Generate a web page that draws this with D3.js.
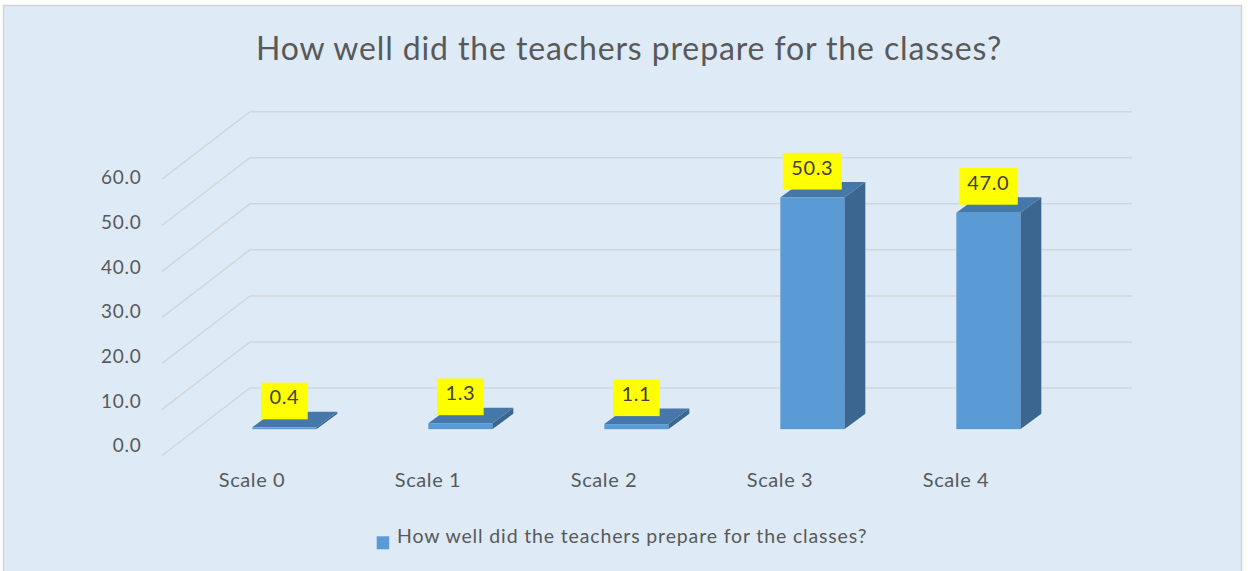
<!DOCTYPE html>
<html>
<head>
<meta charset="utf-8">
<script src="https://cdn.jsdelivr.net/npm/d3@7"></script>
<style>
  html, body { margin: 0; padding: 0; background: #ffffff; }
  svg { display: block; }
  text { font-family: Lato, "Open Sans", sans-serif; fill: #595959; }
</style>
</head>
<body>
<svg id="chart" width="1248" height="571"></svg>
<script>
// ---- data ----
const chartTitle = "How well did the teachers prepare for the classes?";
const seriesName = "How well did the teachers prepare for the classes?";
const categories = ["Scale 0", "Scale 1", "Scale 2", "Scale 3", "Scale 4"];
const values = [0.4, 1.3, 1.1, 50.3, 47.0];
const yTicks = [0, 10, 20, 30, 40, 50, 60];
const yTickLabels = ["0.0", "10.0", "20.0", "30.0", "40.0", "50.0", "60.0"];

// ---- geometry ----
const svg = d3.select("#chart");

const frontLeft = 162, frontRight = 1042;   // front edge of floor
const depthDX = 88, depthDY = 67.5;          // floor depth projection
const backZeroY = 388;                       // back wall, value 0
const barFrontZ = 0.39;                      // bar front position in depth
const barDepthDX = 21, barDepthDY = 15.5;
const barWidth = 64;

const x = d3.scaleBand().domain(categories).range([frontLeft, frontRight]);
const hScale = d3.scaleLinear().domain([0, 60]).range([0, 276.3]);
const yBack = v => backZeroY - hScale(v);
const barBaseY = backZeroY + depthDY * (1 - barFrontZ);
const labelY = d3.scaleLinear().domain([0, 60]).range([445.5, 177.5]);

// background + border
svg.append("rect").attr("x", 3.5).attr("y", 5.5).attr("width", 1238).attr("height", 580)
  .attr("fill", "#DEEBF7").attr("stroke", "#D4D4D4").attr("stroke-width", 1.5);

// title
svg.append("text").attr("x", 629).attr("y", 60).attr("text-anchor", "middle")
  .style("font-size", "32px").style("letter-spacing", "0.88px").text(chartTitle);

// gridlines (side wall diagonals + back wall horizontals)
const grid = svg.append("g").attr("fill", "none").attr("stroke", "#D2D6DB").attr("stroke-width", 1.5);
yTicks.forEach(t => {
  const yb = yBack(t);
  grid.append("path").attr("d",
    `M${frontLeft},${yb + depthDY} L${frontLeft + depthDX},${yb} L${frontRight + depthDX + 2},${yb}`);
});

// y axis labels
svg.append("g").selectAll("text").data(yTicks).join("text")
  .attr("x", 141.5).attr("y", d => labelY(d)).attr("dy", "0.36em")
  .attr("text-anchor", "end").style("font-size", "19px").style("letter-spacing", "0.75px")
  .text((d, i) => yTickLabels[i]);

// bars
const bars = svg.append("g");
categories.forEach((c, i) => {
  const v = values[i];
  const h = hScale(v);
  const fl = x(c) + x.bandwidth() / 2 + depthDX * barFrontZ - barWidth / 2;
  const fr = fl + barWidth;
  const yb = barBaseY, yt = barBaseY - h;
  bars.append("path").attr("fill", "#3A6690")
    .attr("d", `M${fr},${yb} L${fr + barDepthDX},${yb - barDepthDY} L${fr + barDepthDX},${yt - barDepthDY} L${fr},${yt} Z`);
  bars.append("path").attr("fill", "#4577A8")
    .attr("d", `M${fl},${yt} L${fr},${yt} L${fr + barDepthDX},${yt - barDepthDY} L${fl + barDepthDX},${yt - barDepthDY} Z`);
  bars.append("rect").attr("fill", "#5B9BD5")
    .attr("x", fl).attr("y", yt).attr("width", barWidth).attr("height", h);
});

// data labels
const labels = svg.append("g");
categories.forEach((c, i) => {
  const v = values[i];
  const h = hScale(v);
  const cx = x(c) + x.bandwidth() / 2 + depthDX * barFrontZ;
  const bottom = barBaseY - h - 8;
  const t = labels.append("text").attr("x", cx).attr("y", bottom - 15)
    .attr("text-anchor", "middle").style("font-size", "20px").style("fill", "#404040")
    .style("letter-spacing", "0.6px")
    .text(v.toFixed(1));
  const w = t.node().getComputedTextLength();
  labels.insert("rect", "text").attr("x", cx - w / 2 - 8.5).attr("y", bottom - 36.7)
    .attr("width", w + 17).attr("height", 36.7).attr("fill", "#FFFF00");
});

// category labels
svg.append("g").selectAll("text").data(categories).join("text")
  .attr("x", d => x(d) + x.bandwidth() / 2 + 2).attr("y", 486.7)
  .attr("text-anchor", "middle").style("font-size", "20px").style("letter-spacing", "0.6px")
  .text(d => d);

// legend
svg.append("rect").attr("x", 376.7).attr("y", 536.3).attr("width", 12.5).attr("height", 13)
  .attr("fill", "#5B9BD5");
svg.append("text").attr("x", 397).attr("y", 543.3).style("font-size", "19.5px")
  .style("letter-spacing", "0.85px").text(seriesName);
</script>
</body>
</html>
